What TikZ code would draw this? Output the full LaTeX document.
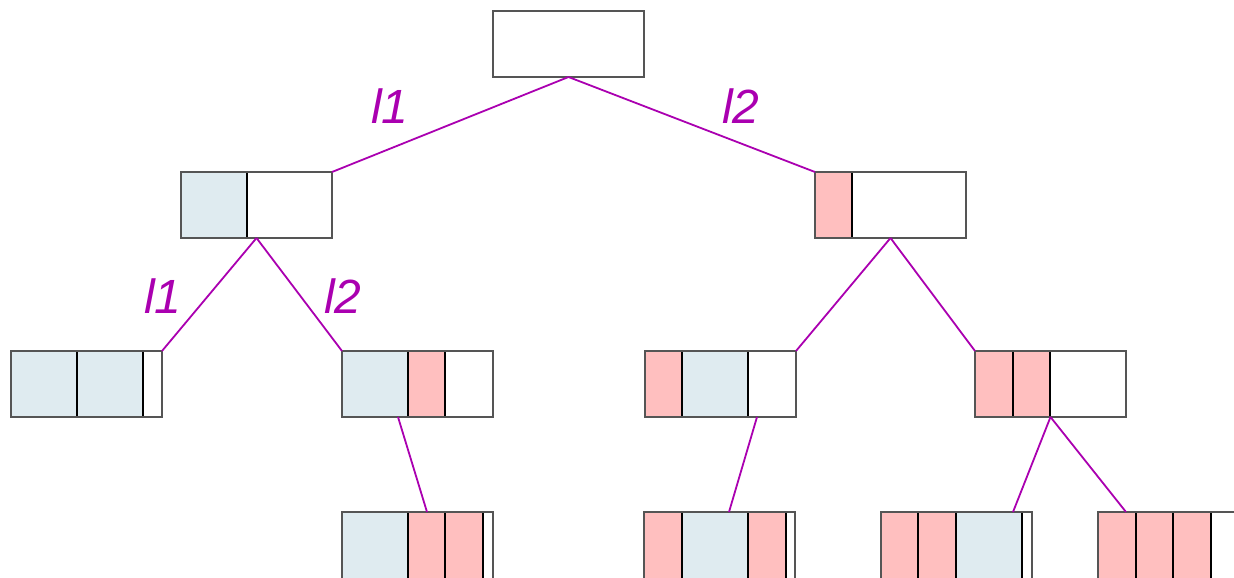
\documentclass[tikz,border=0pt]{standalone}
\usepackage{fontspec}
\setmainfont{Liberation Sans}
\definecolor{cellblue}{HTML}{DFEBF0}
\definecolor{cellpink}{HTML}{FFBFBF}
\definecolor{edgemag}{HTML}{AA00B0}
\definecolor{framegray}{HTML}{555555}

\begin{document}
\begin{tikzpicture}[x=1pt,y=-1pt,
  box/.style={draw=framegray, line width=1.4pt, minimum width=151pt,
    minimum height=66pt, inner sep=0pt, outer sep=0pt},
  bluecell/.style={fill=cellblue, draw=black, line width=1.1pt},
  pinkcell/.style={fill=cellpink, draw=black, line width=1.1pt},
  edge/.style={draw=edgemag, line width=1.8pt},
  lbl/.style={text=edgemag, inner sep=0pt,
    font=\fontsize{48}{48}\selectfont\itshape}]
\useasboundingbox (0,0) rectangle (1234,578);
\clip (0,0) rectangle (1234,578);

% cell fills (level 1)
\path[bluecell] (181,172) rectangle (247,238);
\path[pinkcell] (815,172) rectangle (852,238);
% level 2
\path[bluecell] (11,351) rectangle (77,417);
\path[bluecell] (77,351) rectangle (143,417);
\path[bluecell] (342,351) rectangle (408,417);
\path[pinkcell] (408,351) rectangle (445,417);
\path[pinkcell] (645,351) rectangle (682,417);
\path[bluecell] (682,351) rectangle (748,417);
\path[pinkcell] (975,351) rectangle (1013,417);
\path[pinkcell] (1013,351) rectangle (1050,417);
% level 3 (boxes run past the lower edge)
\path[bluecell] (342,512) rectangle (408,585);
\path[pinkcell] (408,512) rectangle (445,585);
\path[pinkcell] (445,512) rectangle (483,585);
\path[pinkcell] (644,512) rectangle (682,585);
\path[bluecell] (682,512) rectangle (748,585);
\path[pinkcell] (748,512) rectangle (786,585);
\path[pinkcell] (881,512) rectangle (918,585);
\path[pinkcell] (918,512) rectangle (956,585);
\path[bluecell] (956,512) rectangle (1022,585);
\path[pinkcell] (1098,512) rectangle (1136,585);
\path[pinkcell] (1136,512) rectangle (1173,585);
\path[pinkcell] (1173,512) rectangle (1211,585);

% node outlines
\node[box] (root) at (568.5,44) {};
\node[box] (a)  at (256.5,205) {};
\node[box] (b)  at (890.5,205) {};
\node[box] (aa) at (86.5,384) {};
\node[box] (ab) at (417.5,384) {};
\node[box] (ba) at (720.5,384) {};
\node[box] (bb) at (1050.5,384) {};
\node[box, minimum height=80pt] (abx) at (417.5,552) {};
\node[box, minimum height=80pt] (bax) at (719.5,552) {};
\node[box, minimum height=80pt] (bba) at (956.5,552) {};
\node[box, minimum height=80pt] (bbb) at (1173.5,552) {};

% branch points below the lower boxes
\coordinate (abs) at (398,417);
\coordinate (bas) at (757,417);
\coordinate (abt) at (427,512);
\coordinate (bat) at (729,512);
\coordinate (bbat) at (1013,512);
\coordinate (bbbt) at (1126,512);

% connectors
\draw[edge] (root.south) -- (a.north east);
\draw[edge] (root.south) -- (b.north west);
\draw[edge] (a.south) -- (aa.north east);
\draw[edge] (a.south) -- (ab.north west);
\draw[edge] (b.south) -- (ba.north east);
\draw[edge] (b.south) -- (bb.north west);
\draw[edge] (abs) -- (abt);
\draw[edge] (bas) -- (bat);
\draw[edge] (bb.south) -- (bbat);
\draw[edge] (bb.south) -- (bbbt);

% branch labels
\node[lbl] (l1a) at (390,106) {l1};
\node[lbl] (l2a) at (741,106) {l2};
\node[lbl] (l1b) at (163,296) {l1};
\node[lbl] (l2b) at (343,296) {l2};
\end{tikzpicture}
\end{document}
